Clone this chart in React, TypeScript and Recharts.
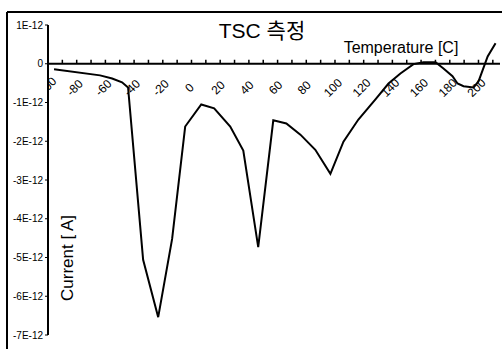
import { ComposedChart, Line, Scatter, XAxis, YAxis, ReferenceLine } from 'recharts';

// temperature [C] and current in units of 1E-12 A
const temperature = [
  -95.8, -63.7, -55.3, -48.4, -44.2, -33.7, -23.2, -13.5, -4.4, 6.8, 15.8, 27.0, 36.1, 46.5, 57.0, 66.1,
  75.9, 86.3, 96.8, 105.9, 116.3, 128.2, 137.3, 145.6, 154.7, 161.7, 170.1, 175.6, 181.9, 185.4, 189.6,
  196.6, 200.1, 206.4, 211.9,
];
const currentE12 = [
  -0.14, -0.3, -0.38, -0.48, -0.61, -5.06, -6.54, -4.52, -1.62, -1.05, -1.15, -1.62, -2.24, -4.73, -1.46, -1.54,
  -1.83, -2.22, -2.84, -2.01, -1.44, -0.92, -0.51, -0.25, -0.01, 0.04, 0.04, -0.12, -0.32, -0.51, -0.58,
  -0.61, -0.45, 0.19, 0.53,
];
const xTicks = [-100, -90, -80, -70, -60, -50, -40, -30, -20, -10, 0, 10, 20, 30, 40, 50, 60, 70, 80, 90, 100, 110, 120, 130, 140, 150, 160, 170, 180, 190, 200, 210];
const yTicks = [1, 0, -1, -2, -3, -4, -5, -6, -7];

const data = temperature.map((t, i) => ({ t, v: currentE12[i] }));
const tickData = xTicks.map((t) => ({ t, v: 0 }));

const font = '"Liberation Sans", Arial, "Noto Sans CJK KR", sans-serif';

const XTick = (props: any) => {
  const { cx, cy, payload } = props;
  const t = payload.t;
  return (
    <g>
      {t > -100 && <line x1={cx} y1={cy - 4} x2={cx} y2={cy} stroke="#000" strokeWidth={1.5} />}
      {t % 20 === 0 && (
        <text
          transform={`translate(${cx - 2},${cy + 24}) rotate(-45)`}
          textAnchor="middle"
          dominantBaseline="central"
          fontSize={12}
          fontFamily={font}
          fill="#000"
        >
          {t}
        </text>
      )}
    </g>
  );
};

export default function App() {
  return (
    <div style={{ position: 'fixed', left: 0, top: 0, width: 502, height: 349, background: '#fff' }}>
      <ComposedChart width={502} height={349} data={data} margin={{ top: 25, right: 2, bottom: 14, left: 0 }}>
        <XAxis dataKey="t" type="number" domain={[-100, 215]} hide allowDataOverflow />
        <YAxis
          type="number"
          domain={[-7, 1]}
          ticks={yTicks}
          width={48}
          tickSize={3}
          tickMargin={2}
          axisLine={{ stroke: '#000', strokeWidth: 2 }}
          tickLine={{ stroke: '#000' }}
          tick={{ fill: '#000', fontSize: 10, fontFamily: font }}
          tickFormatter={(v: number) => (v === 0 ? '0' : `${v}E-12`)}
        />
        <ReferenceLine y={0} stroke="#000" strokeWidth={2} />
        <Scatter data={tickData} dataKey="v" shape={XTick} isAnimationActive={false} />
        <Line type="linear" dataKey="v" stroke="#000" strokeWidth={2} dot={false} isAnimationActive={false} />
      </ComposedChart>
      <svg width={502} height={349} style={{ position: 'absolute', left: 0, top: 0, pointerEvents: 'none' }}>
        <line x1={7} y1={12} x2={502} y2={12} stroke="#000" strokeWidth={2} />
        <line x1={7} y1={12} x2={7} y2={349} stroke="#000" strokeWidth={2} />
        <text x={262} y={38} textAnchor="middle" fontSize={21} fontFamily={font} fill="#000">
          TSC 측정
        </text>
        <text x={401} y={53} textAnchor="middle" fontSize={16} fontFamily={font} fill="#000">
          Temperature [C]
        </text>
        <text
          transform="translate(67,258) rotate(-90)"
          textAnchor="middle"
          dominantBaseline="central"
          fontSize={17}
          fontFamily={font}
          fill="#000"
        >
          Current [ A]
        </text>
      </svg>
    </div>
  );
}
